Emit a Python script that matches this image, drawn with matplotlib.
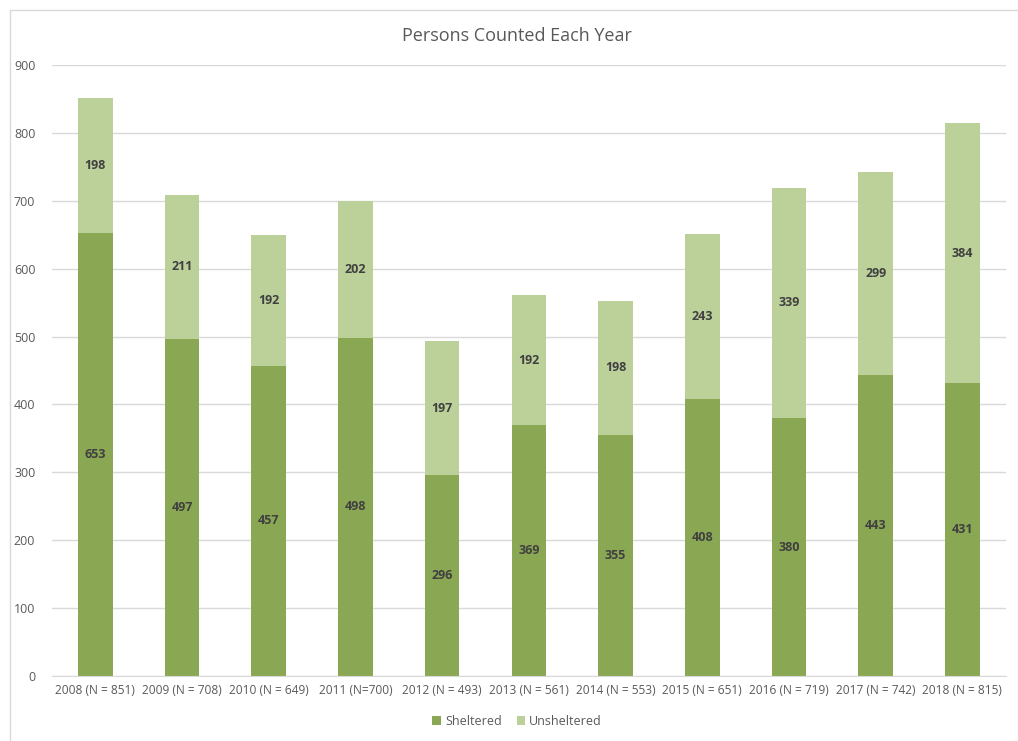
import numpy as np
import matplotlib.pyplot as plt
from matplotlib.patches import Rectangle

categories = ["2008 (N = 851)", "2009 (N = 708)", "2010 (N = 649)", "2011 (N=700)",
              "2012 (N = 493)", "2013 (N = 561)", "2014 (N = 553)", "2015 (N = 651)",
              "2016 (N = 719)", "2017 (N = 742)", "2018 (N = 815)"]
sheltered = [653, 497, 457, 498, 296, 369, 355, 408, 380, 443, 431]
unsheltered = [198, 211, 192, 202, 197, 192, 198, 243, 339, 299, 384]

plt.rcParams['font.family'] = ['Open Sans', 'DejaVu Sans']

c_shel = "#8aa853"
c_unsh = "#bcd09a"
txt = "#595959"

fig = plt.figure(figsize=(10.18, 7.41), dpi=100)
ax = fig.add_axes([0.051, 0.0877, 0.937, 0.8246])

x = np.arange(len(categories))
w = 0.40
ax.bar(x, sheltered, w, color=c_shel, label="Sheltered", zorder=2)
ax.bar(x, unsheltered, w, bottom=sheltered, color=c_unsh, label="Unsheltered", zorder=2)

# value labels in the middle of each segment
for i in range(len(x)):
    ax.text(x[i], sheltered[i] / 2, str(sheltered[i]), ha='center', va='center',
            fontsize=9, fontweight='bold', color="#404040", zorder=3)
    ax.text(x[i], sheltered[i] + unsheltered[i] / 2, str(unsheltered[i]), ha='center',
            va='center', fontsize=9, fontweight='bold', color="#404040", zorder=3)

ax.set_xlim(-0.5, len(x) - 0.5)
ax.set_ylim(0, 900)
ax.set_yticks(np.arange(0, 901, 100))
ax.yaxis.grid(True, color="#d9d9d9", linewidth=1, zorder=0)
ax.set_xticks(x)
ax.set_xticklabels(categories)
ax.tick_params(axis='both', length=0, labelsize=9, colors=txt)
ax.tick_params(axis='x', labelsize=8.6, pad=6)
ax.tick_params(axis='y', pad=12)
for s in ['top', 'right', 'left']:
    ax.spines[s].set_visible(False)
ax.spines['bottom'].set_color("#d9d9d9")

fig.text(0.508, 0.952, "Persons Counted Each Year", ha='center', va='center',
         fontsize=13, color=txt)

leg = fig.legend(loc='center', bbox_to_anchor=(0.508, 0.026), ncol=2, frameon=False,
                 fontsize=9, handlelength=0.7, handleheight=0.7, columnspacing=1.2,
                 handletextpad=0.3)
for t in leg.get_texts():
    t.set_color(txt)

# chart area border (only top and left visible in the crop)
fig.patches.append(Rectangle((10 / 1018, -0.1), 1.2, 1 - 10 / 741 + 0.1,
                             transform=fig.transFigure, fill=False,
                             edgecolor="#d9d9d9", linewidth=1))

fig.savefig("out.png", dpi=100)
